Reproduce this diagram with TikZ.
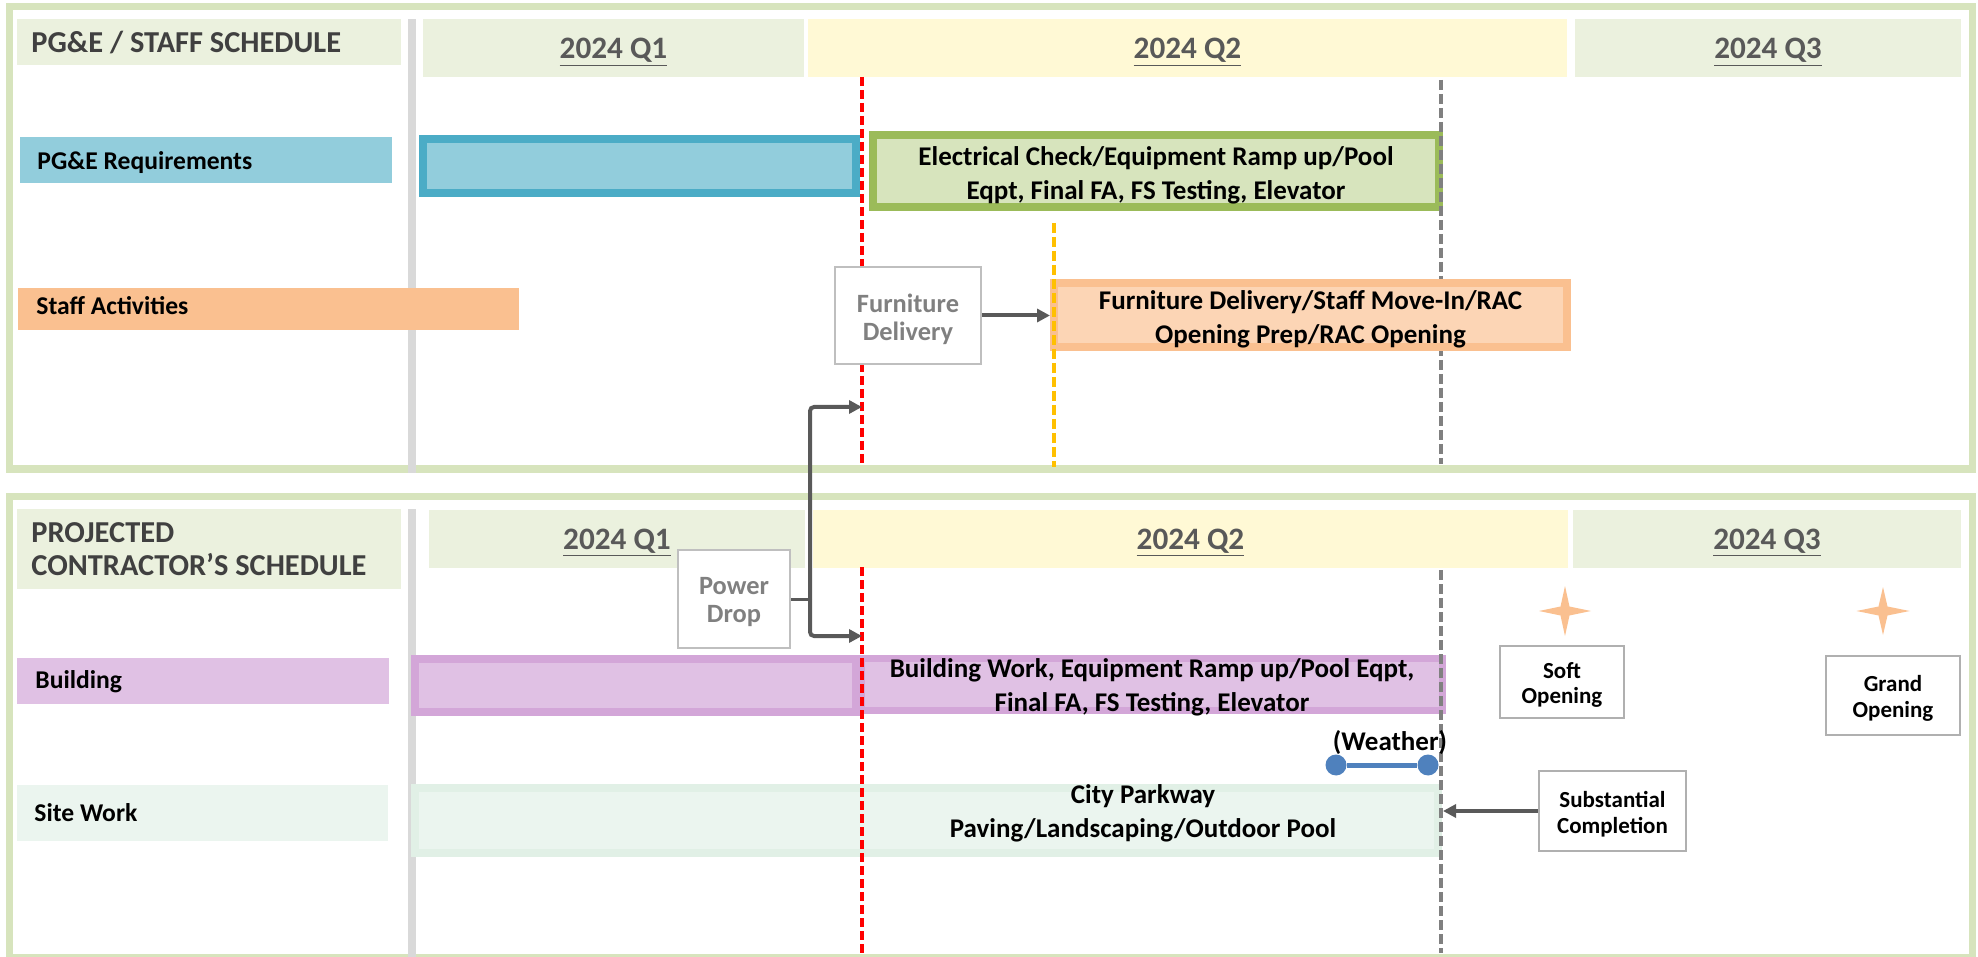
\documentclass[tikz,border=0pt]{standalone}
\usepackage{fontspec}
\setmainfont{Carlito}
\usepackage{tikz}
\usetikzlibrary{arrows.meta}

\definecolor{panelgreen}{HTML}{D7E4BD}
\definecolor{headfill}{HTML}{EBF1DE}
\definecolor{qyellow}{HTML}{FFF9D5}
\definecolor{sepgrey}{HTML}{D9D9D9}
\definecolor{titlegrey}{HTML}{404040}
\definecolor{qgrey}{HTML}{595959}
\definecolor{pgefill}{HTML}{92CDDC}
\definecolor{pgeline}{HTML}{4BACC6}
\definecolor{elecfill}{HTML}{D7E4BD}
\definecolor{elecline}{HTML}{9BBB59}
\definecolor{stafffill}{HTML}{FCD5B5}
\definecolor{staffline}{HTML}{FAC090}
\definecolor{bldfill}{HTML}{E0C1E4}
\definecolor{bldline}{HTML}{D3A6D8}
\definecolor{sitefill}{HTML}{EBF5EF}
\definecolor{siteline}{HTML}{E1F0E6}
\definecolor{wblue}{HTML}{4F81BD}
\definecolor{arrowgrey}{HTML}{595959}
\definecolor{boxgrey}{HTML}{BFBFBF}
\definecolor{msgrey}{HTML}{B0B0B0}
\definecolor{calltext}{HTML}{808080}
\definecolor{redline}{HTML}{FF0000}
\definecolor{greyline}{HTML}{808080}
\definecolor{orangeline}{HTML}{FFC000}

\begin{document}
\begin{tikzpicture}[x=0.5pt,y=0.5pt]
\tikzstyle{every node}+=[inner sep=0pt]
\tikzstyle{panel}=[draw=panelgreen, line width=3.75pt]
\tikzstyle{hdlabel}=[font=\fontsize{15.2}{16}\selectfont\bfseries, text=titlegrey, anchor=base west]
\tikzstyle{qlabel}=[font=\fontsize{15.6}{18}\selectfont\bfseries, text=qgrey, anchor=base]
\tikzstyle{rowtext}=[font=\fontsize{12.8}{15}\selectfont\bfseries, anchor=base west]
\tikzstyle{bartext}=[font=\fontsize{13.5}{17}\selectfont\bfseries, align=center]
\tikzstyle{bar}=[rectangle, line width=4pt]
\tikzstyle{callout}=[rectangle, draw=boxgrey, fill=white, line width=1pt]
\tikzstyle{calltxt}=[text=calltext, font=\fontsize{13.2}{14}\selectfont\bfseries, align=center]
\tikzstyle{milestone}=[rectangle, draw=msgrey, fill=white, line width=1pt]
\tikzstyle{mstxt}=[font=\fontsize{11.5}{12.75}\selectfont\bfseries, align=center]
\tikzstyle{reddash}=[draw=redline, line width=1.6pt, dash pattern=on 4.6pt off 1.9pt]
\tikzstyle{greydash}=[draw=greyline, line width=1.6pt, dash pattern=on 5pt off 2pt]
\tikzstyle{orangedash}=[draw=orangeline, line width=1.6pt, dash pattern=on 5pt off 2pt]
\tikzstyle{conn}=[draw=arrowgrey, line width=2pt, -{Triangle[length=6.5pt,width=6.5pt]}]
\tikzstyle{wdot}=[circle, fill=wblue, minimum size=10.5pt]
\tikzstyle{wline}=[draw=wblue, line width=2.5pt]
\tikzstyle{sparkle}=[fill=staffline]
\useasboundingbox (0,0) rectangle (1978,-957);

% top panel
\draw [panel] (9.5,-6.5) rectangle (1972.5,-469);
\fill [headfill] (17,-19) rectangle (401,-65);
\fill [headfill] (423,-19) rectangle (804,-77);
\fill [qyellow] (808,-19) rectangle (1567,-77);
\fill [headfill] (1575,-19) rectangle (1961,-77);
\node [hdlabel] (pgehd) at (31,-53) {PG\&E / STAFF SCHEDULE};
\node [qlabel] (tq1) at (613.5,-59) {\underline{2024 Q1}};
\node [qlabel] (tq2) at (1187.5,-59) {\underline{2024 Q2}};
\node [qlabel] (tq3) at (1768,-59) {\underline{2024 Q3}};
\fill [sepgrey] (408,-19) rectangle (416,-473);

% bottom panel
\draw [panel] (9.5,-496.5) rectangle (1972.5,-958);
\fill [headfill] (17,-509) rectangle (401,-589);
\fill [headfill] (429,-510) rectangle (805,-568);
\fill [qyellow] (813,-510) rectangle (1568,-568);
\fill [headfill] (1573,-510) rectangle (1961,-568);
\node [hdlabel] (projhd) at (31,-543) {PROJECTED};
\node [hdlabel] (contrhd) at (31,-575) {CONTRACTOR’S SCHEDULE};
\node [qlabel] (bq1) at (617,-549) {\underline{2024 Q1}};
\node [qlabel] (bq2) at (1190.5,-549) {\underline{2024 Q2}};
\node [qlabel] (bq3) at (1767,-549) {\underline{2024 Q3}};
\fill [sepgrey] (408,-509) rectangle (416,-957);

% row labels
\fill [pgefill] (20,-137) rectangle (392,-183);
\node [rowtext] (pgelab) at (37,-170) {PG\&E Requirements};
\fill [staffline] (18,-288) rectangle (519,-330);
\node [rowtext] (stafflab) at (36,-315) {Staff Activities};
\fill [bldfill] (17,-658) rectangle (389,-704);
\node [rowtext] (bldlab) at (35,-688) {Building};
\fill [sitefill] (17,-785) rectangle (388,-841);
\node [rowtext] (sitelab) at (34,-821) {Site Work};

% bars
\node [bar, draw=pgeline, fill=pgefill, minimum width=216.5pt, minimum height=27pt] (pgebar) at (639.5,-166) {};
\node [bar, draw=elecline, fill=elecfill, minimum width=283pt, minimum height=36pt] (elecbar) at (1156,-171) {};
\node [bartext] (electxt) at (1156,-175) {Electrical Check/Equipment Ramp up/Pool\\Eqpt, Final FA, FS Testing, Elevator};
\node [bar, draw=bldline, fill=bldfill, minimum width=220.5pt, minimum height=26.5pt] (bldbarA) at (635.5,-685.5) {};
\node [bar, draw=bldline, fill=bldfill, line width=3.5pt, minimum width=290.5pt, minimum height=26pt] (bldbarB) at (1152,-684.5) {};
\node [bartext] (bldtxt) at (1152,-687) {Building Work, Equipment Ramp up/Pool Eqpt,\\Final FA, FS Testing, Elevator};
\node [bar, draw=siteline, fill=sitefill, minimum width=511.5pt, minimum height=32.5pt] (sitebar) at (926.5,-820.5) {};
\node [bartext] (sitetxt) at (1143,-813) {City Parkway\\Paving/Landscaping/Outdoor Pool};

% milestone lines
\draw [reddash] (862,-77) -- (862,-464);
\draw [reddash] (862,-567) -- (862,-957);
\draw [greydash] (1441,-80) -- (1441,-464);
\draw [greydash] (1441,-570) -- (1441,-953);
\node [bar, draw=staffline, fill=stafffill, minimum width=256.5pt, minimum height=32pt] (staffbar) at (1310.5,-315) {};
\node [bartext] (stafftxt) at (1310.5,-319) {Furniture Delivery/Staff Move-In/RAC\\Opening Prep/RAC Opening};
\draw [orangedash] (1054,-223) -- (1054,-467);

\node [callout, minimum width=73pt, minimum height=48.5pt] (furn) at (908,-315.5) {};
\node [calltxt] (furntxt) at (908,-319) {Furniture\\Delivery};
\node [callout, minimum width=56pt, minimum height=49pt] (power) at (734,-599) {};
\node [calltxt] (powertxt) at (734,-602.5) {Power\\Drop};
\node [milestone, minimum width=61.75pt, minimum height=36pt] (soft) at (1562,-682) {};
\node [mstxt] (softtxt) at (1562,-685) {Soft\\Opening};
\node [milestone, minimum width=67pt, minimum height=39.5pt] (grand) at (1893,-695.5) {};
\node [mstxt] (grandtxt) at (1893,-698.5) {Grand\\Opening};
\node [milestone, minimum width=73.5pt, minimum height=40pt] (subst) at (1612.5,-811) {};
\node [mstxt] (substtxt) at (1612.5,-814) {Substantial\\Completion};
\fill [sparkle] (1565,-611) +(0,25) -- +(4.5,4.5) -- +(26,0) -- +(4.5,-4.5) -- +(0,-25) -- +(-4.5,-4.5) -- +(-26,0) -- +(-4.5,4.5) -- cycle;
\fill [sparkle] (1883,-611) +(0,24) -- +(4.5,4.5) -- +(26.5,0) -- +(4.5,-4.5) -- +(0,-24) -- +(-4.5,-4.5) -- +(-26.5,0) -- +(-4.5,4.5) -- cycle;

\node [wdot] (wL) at (1336,-765) {};
\node [wdot] (wR) at (1428,-765) {};
\draw [wline] (wL) -- (wR);
\node [bartext, anchor=base] (weather) at (1390,-750) {(Weather)};

% connectors
\draw [conn] (furn.east) -- (furn.east -| staffbar.west);
\coordinate (pwrjoin) at (810,-599);
\coordinate (pwrT) at (862,-407);
\coordinate (pwrB) at (862,-636);
\draw [arrowgrey, line width=1.5pt] (power.east) -- (pwrjoin);
\draw [conn, rounded corners=2pt] (pwrjoin) |- (pwrT);
\draw [conn, rounded corners=2pt] (pwrjoin) |- (pwrB);
\coordinate (subend) at (1443,-811);
\draw [conn] (subst.west) -- (subend);
\end{tikzpicture}
\end{document}
